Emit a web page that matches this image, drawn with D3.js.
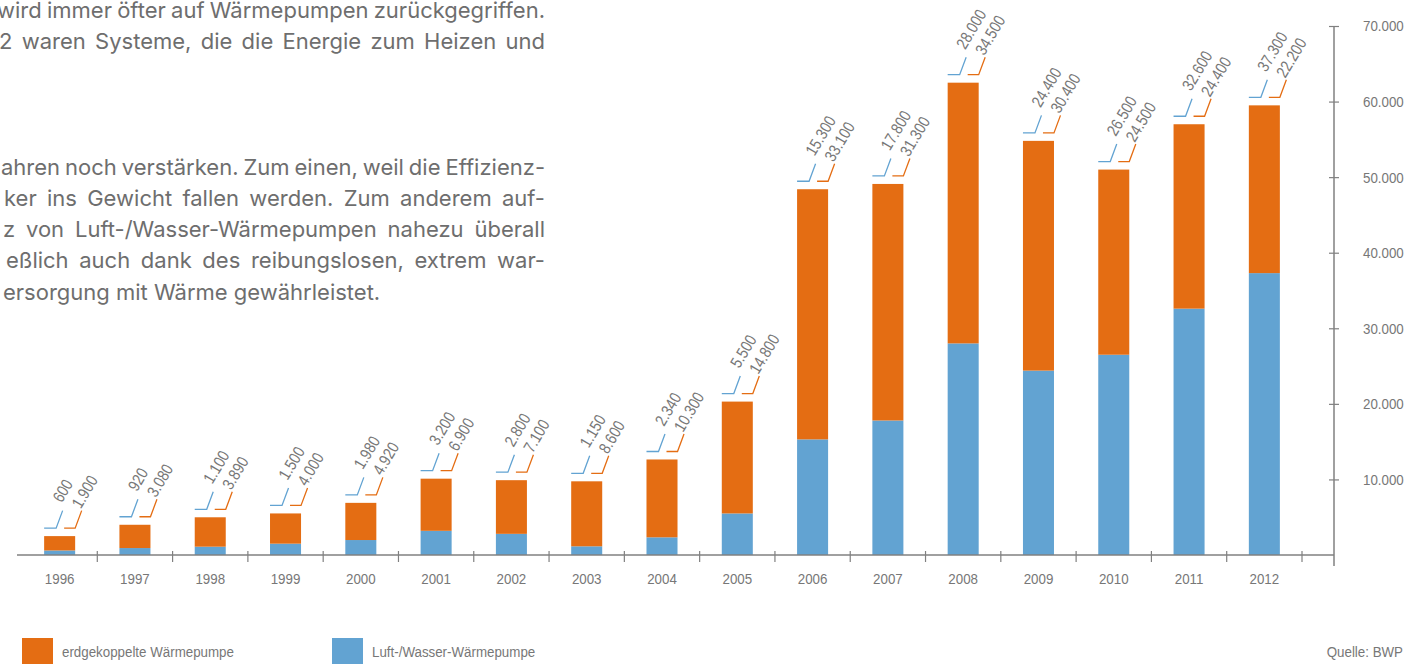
<!DOCTYPE html>
<html>
<head>
<meta charset="utf-8">
<script src="https://cdn.jsdelivr.net/npm/d3@7"></script>
<style>
  html, body { margin: 0; padding: 0; background: #fff; overflow: hidden; }
  svg { display: block; }
</style>
</head>
<body>
<div id="chart"></div>
<script>
// data
var years = ["1996","1997","1998","1999","2000","2001","2002","2003","2004",
             "2005","2006","2007","2008","2009","2010","2011","2012"];
var luftWasser = [600, 920, 1100, 1500, 1980, 3200, 2800, 1150, 2340,
                  5500, 15300, 17800, 28000, 24400, 26500, 32600, 37300];
var erdgekoppelt = [1900, 3080, 3890, 4000, 4920, 6900, 7100, 8600, 10300,
                    14800, 33100, 31300, 34500, 30400, 24500, 24400, 22200];
var yTicks = [10000, 20000, 30000, 40000, 50000, 60000, 70000];
var seriesNames = ["erdgekoppelte Wärmepumpe", "Luft-/Wasser-Wärmepumpe"];
var source = "Quelle: BWP";

// body text (cut off at the left edge in the original)
var bodyLines = [
  "wird immer öfter auf Wärmepumpen zurückgegriffen.",
  "2 waren Systeme, die die Energie zum Heizen und",
  "", "", "",
  "ahren noch verstärken. Zum einen, weil die Effizienz-",
  "ker ins Gewicht fallen werden. Zum anderem auf-",
  "z von Luft-/Wasser-Wärmepumpen nahezu überall",
  "eßlich auch dank des reibungslosen, extrem war-",
  "ersorgung mit Wärme gewährleistet."
];
var bodyStart = [-3, -1, 0, 0, 0, 1, 4, 3, 6, 3];

var W = 1426, H = 664;
var orange = "#e46d13", blue = "#62a3d2", grey = "#777", axisGrey = "#808080";
var labelFont = "'Liberation Sans', Arial, sans-serif";

var svg = d3.select("#chart").append("svg")
    .attr("width", W)
    .attr("height", H);

var de = d3.formatLocale({decimal: ",", thousands: ".", grouping: [3], currency: ["", " €"]});
var fmt = de.format(",");

// squeeze glyphs to get the condensed look of the original
function condense(sel, k) {
  sel.each(function() {
    var len = this.getComputedTextLength();
    d3.select(this)
      .attr("textLength", len * k)
      .attr("lengthAdjust", "spacingAndGlyphs");
  });
}

// ---- body text, justified to the right edge
var textRight = 545;
var body = svg.append("g")
    .style("font-family", "Inter, 'Liberation Sans', sans-serif")
    .style("font-size", "22px")
    .attr("fill", "#6e6e6e");

bodyLines.forEach(function(line, i) {
  if (!line) return;
  var t = body.append("text")
      .attr("x", bodyStart[i])
      .attr("y", 18 + i * 31.3)
      .text(line);
  if (i < bodyLines.length - 1) {
    var spaces = line.split(" ").length - 1;
    var len = t.node().getComputedTextLength();
    var extra = textRight - bodyStart[i] - len;
    if (spaces > 0) t.style("word-spacing", (extra / spaces) + "px");
  }
});

// ---- scales
var x = d3.scaleBand()
  .domain(years)
  .range([22, 1302])
  .paddingInner(0.588)
  .paddingOuter(0.294);

var y = d3.scaleLinear()
  .domain([0, 70000])
  .range([555, 26]);

var y0 = y(0);
var axisX = 1334;

// ---- bars
var rows = years.map(function(d, i) {
  return {year: d, lw: luftWasser[i], erd: erdgekoppelt[i]};
});

var bars = svg.append("g");
bars.selectAll(".lw")
  .data(rows)
  .enter().append("rect")
    .attr("x", function(d) { return x(d.year); })
    .attr("width", x.bandwidth())
    .attr("y", function(d) { return y(d.lw); })
    .attr("height", function(d) { return y0 - y(d.lw); })
    .attr("fill", blue);

bars.selectAll(".erd")
  .data(rows)
  .enter().append("rect")
    .attr("x", function(d) { return x(d.year); })
    .attr("width", x.bandwidth())
    .attr("y", function(d) { return y(d.lw + d.erd); })
    .attr("height", function(d) { return y(d.lw) - y(d.lw + d.erd); })
    .attr("fill", orange);

// ---- leader lines + rotated value labels
var labels = svg.append("g")
    .style("font-family", labelFont)
    .style("font-size", "16.5px");

rows.forEach(function(d) {
  var xl = x(d.year), yt = y(d.lw + d.erd) - 8;
  var bw = x.bandwidth();
  var items = [
    {x0: xl, x1: xl + 12, v: d.lw, c: blue, dy: -7},
    {x0: xl + 20, x1: xl + bw, v: d.erd, c: orange, dy: -1}
  ];
  items.forEach(function(it) {
    var ex = it.x1 + 6.5, ey = yt - 17.5;
    labels.append("path")
      .attr("d", "M" + it.x0 + "," + yt + "H" + it.x1 + "L" + ex + "," + ey)
      .attr("fill", "none")
      .attr("stroke", it.c)
      .attr("stroke-width", 1.3);
    labels.append("text")
      .attr("transform", "translate(" + (ex - 1) + "," + (ey + it.dy) + ")rotate(-59)")
      .attr("fill", grey)
      .text(fmt(it.v));
  });
});
condense(labels.selectAll("text"), 0.84);

// ---- x axis
var xAxis = svg.append("g")
  .attr("transform", "translate(0," + y0 + ")")
  .call(d3.axisBottom(x).tickSize(0).tickPadding(18));
xAxis.select(".domain").remove();
xAxis.selectAll("text")
  .style("font-family", labelFont)
  .style("font-size", "15.5px")
  .attr("fill", grey)
  .call(condense, 0.86);

svg.append("line")
  .attr("x1", 17).attr("x2", axisX)
  .attr("y1", y0).attr("y2", y0)
  .attr("stroke", axisGrey).attr("stroke-width", 1.5);

svg.append("g").selectAll("line")
  .data(years)
  .enter().append("line")
    .attr("x1", function(d) { return x(d) + x.bandwidth() + x.step() * 0.294; })
    .attr("x2", function(d) { return x(d) + x.bandwidth() + x.step() * 0.294; })
    .attr("y1", y0 - 4).attr("y2", y0 + 7)
    .attr("stroke", axisGrey).attr("stroke-width", 1.2);

// ---- y axis on the right
var yAxis = svg.append("g")
  .attr("transform", "translate(" + axisX + ",0)")
  .call(d3.axisRight(y).tickValues(yTicks).tickFormat(fmt).tickSize(5).tickPadding(24));
yAxis.select(".domain").remove();
yAxis.selectAll(".tick line")
  .attr("x1", -5)
  .attr("stroke", axisGrey).attr("stroke-width", 1.2);
yAxis.selectAll("text")
  .style("font-family", labelFont)
  .style("font-size", "15.5px")
  .attr("fill", grey)
  .call(condense, 0.86);

svg.append("line")
  .attr("x1", axisX).attr("x2", axisX)
  .attr("y1", y(70000)).attr("y2", y0 + 11)
  .attr("stroke", axisGrey).attr("stroke-width", 1.5);

// ---- legend + source
var legend = svg.append("g")
    .style("font-family", labelFont)
    .style("font-size", "15.5px");
[orange, blue].forEach(function(c, i) {
  var lx = i === 0 ? 22 : 332;
  legend.append("rect")
    .attr("x", lx).attr("y", 638)
    .attr("width", 31).attr("height", 30)
    .attr("fill", c);
  legend.append("text")
    .attr("x", lx + 40).attr("y", 657)
    .attr("fill", grey)
    .text(seriesNames[i]);
});
legend.append("text")
  .attr("x", 1403).attr("y", 657)
  .attr("text-anchor", "end")
  .attr("fill", grey)
  .text(source);
condense(legend.selectAll("text"), 0.86);
</script>
</body>
</html>
